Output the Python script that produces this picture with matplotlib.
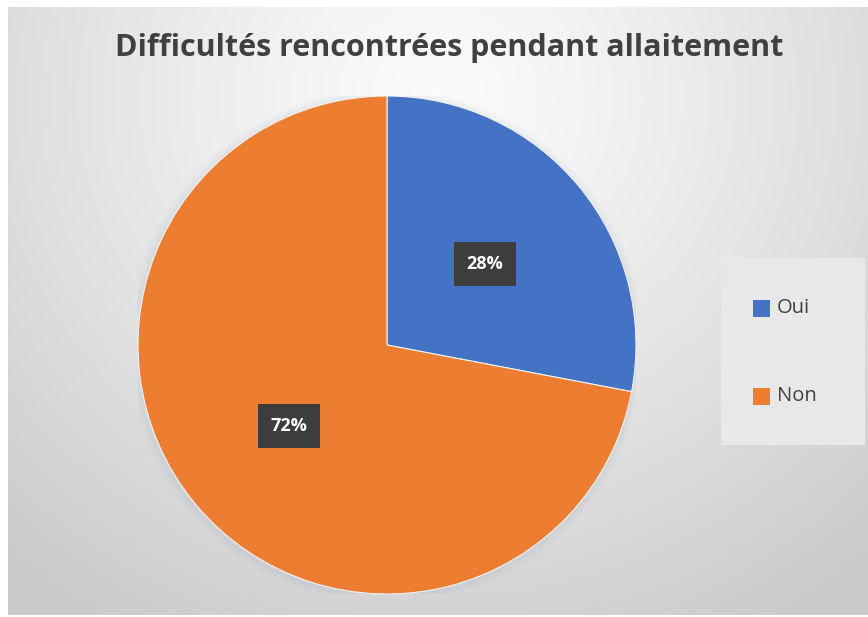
import numpy as np
import matplotlib
matplotlib.use("Agg")
import matplotlib.pyplot as plt
from matplotlib.patches import Rectangle

title = "Difficultés rencontrées pendant allaitement"
labels = ["Oui", "Non"]
values = [28, 72]
colors = ["#4472C4", "#ED7D31"]

W, H = 868, 617
fig = plt.figure(figsize=(W / 100, H / 100), dpi=100)
fig.patch.set_facecolor("white")

# background gradient area (chart area)
x0, y0, x1, y1 = 8, 7, 868, 615
bg = fig.add_axes([x0 / W, 1 - y1 / H, (x1 - x0) / W, (y1 - y0) / H])
gx, gy = np.meshgrid(np.linspace(0, 1, 400), np.linspace(0, 1, 300))
cx, cy = 0.5, 0.15
d = np.sqrt(((gx - cx) / 0.75) ** 2 + ((gy - cy) / 1.0) ** 2)
d = np.clip(d, 0, 1)
val = 0.985 - 0.19 * d ** 1.2
img = np.dstack([val, val, val])
bg.imshow(img, extent=[0, 1, 0, 1], origin="upper", aspect="auto")
bg.set_axis_off()

# pie axes
cxp, cyp, r = 387, 345, 249
ax = fig.add_axes([(cxp - r) / W, 1 - (cyp + r) / H, 2 * r / W, 2 * r / H])
ax.set_axis_off()
for k, a in enumerate([0.05, 0.04, 0.03]):
    sh = plt.Circle((-0.004, -0.006), 1.0 + 0.01 * (k + 1), color="#8fa4c0", alpha=a, zorder=0)
    ax.add_patch(sh)
wedges, _ = ax.pie(values, colors=colors, startangle=90, counterclock=False,
                   radius=1.0, wedgeprops=dict(linewidth=0.8, edgecolor="#f2f2f2"))
ax.set_xlim(-1, 1)
ax.set_ylim(-1, 1)

# data labels
cum = 0
for w, v in zip(wedges, values):
    mid = np.deg2rad(90 - 360 * (cum + v / 2) / sum(values))
    cum += v
    rr = 0.51
    ax.text(rr * np.cos(mid), rr * np.sin(mid),
            f"{v}%", ha="center", va="center", color="white", fontsize=13,
            fontweight="bold", family=["Open Sans", "DejaVu Sans"],
            bbox=dict(boxstyle="square,pad=0.7", facecolor="#3d3d3d", edgecolor="none"))

# title
fig.text(449 / W, 1 - 48 / H, title, ha="center", va="center", fontsize=22,
         fontweight="bold", color="#404040", family=["Open Sans", "DejaVu Sans"])

# legend box
lx0, ly0, lx1, ly1 = 721, 258, 865, 445
lax = fig.add_axes([lx0 / W, 1 - ly1 / H, (lx1 - lx0) / W, (ly1 - ly0) / H])
lax.set_xlim(lx0, lx1)
lax.set_ylim(ly1, ly0)
lax.set_facecolor("#e8e8e8")
for s in lax.spines.values():
    s.set_visible(False)
lax.set_xticks([])
lax.set_yticks([])
for lab, col, yy in zip(labels, colors, [308, 396]):
    lax.add_patch(Rectangle((753, yy - 8.5), 17, 17, facecolor=col, edgecolor="none"))
    lax.text(777, yy, lab, ha="left", va="center", fontsize=14.5, color="#404040",
             family=["Open Sans", "DejaVu Sans"])

fig.savefig("out.png", dpi=100, facecolor=fig.get_facecolor())
